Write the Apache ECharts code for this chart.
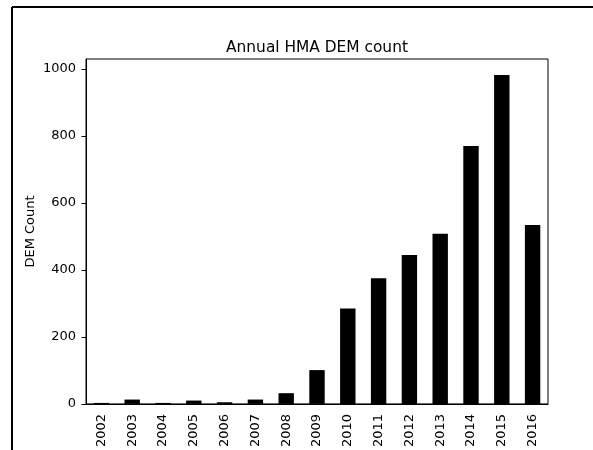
<!DOCTYPE html>
<html>
<head>
<meta charset="utf-8">
<script src="https://cdn.jsdelivr.net/npm/echarts@6/dist/echarts.min.js"></script>
<style>html,body{margin:0;padding:0;background:#fff}#c{width:593px;height:450px}</style>
</head>
<body>
<div id="c"></div>
<script>
const years = ['2002','2003','2004','2005','2006','2007','2008','2009','2010','2011','2012','2013','2014','2015','2016'];
const demCounts = [3, 13, 3, 10, 5, 13, 32, 101, 285, 375, 445, 508, 770, 982, 534];
const yTicks = [0, 200, 400, 600, 800, 1000];
const titleText = 'Annual HMA DEM count';
const yName = 'DEM Count';

const font = 'DejaVu Sans';
const chart = echarts.init(document.getElementById('c'), null, {renderer: 'canvas'});
chart.setOption({
  animation: false,
  backgroundColor: '#fff',
  title: {
    text: titleText,
    left: 312,
    top: 35,
    textAlign: 'center',
    textStyle: {fontFamily: font, fontSize: 15.4, fontWeight: 'normal', color: '#000'}
  },
  graphic: [
    {type: 'line', shape: {x1: 12, y1: 7, x2: 593, y2: 7}, style: {stroke: '#000', lineWidth: 2}},
    {type: 'line', shape: {x1: 12, y1: 7, x2: 12, y2: 450}, style: {stroke: '#000', lineWidth: 2}}
  ],
  grid: {left: 86, top: 59, right: 45, bottom: 45, show: true, borderColor: '#000', borderWidth: 1, containLabel: false},
  xAxis: {
    type: 'category',
    data: years,
    boundaryGap: true,
    axisLine: {lineStyle: {color: '#000', width: 1}},
    axisTick: {alignWithLabel: true, length: 4.5, lineStyle: {color: '#000'}},
    axisLabel: {rotate: 90, fontFamily: font, fontSize: 13, color: '#000', margin: 10, interval: 0},
    splitLine: {show: false}
  },
  yAxis: {
    type: 'value',
    min: 0,
    max: 1030,
    name: yName,
    nameLocation: 'middle',
    nameRotate: 90,
    nameGap: 49,
    nameMoveOverlap: false,
    nameTextStyle: {fontFamily: font, fontSize: 13, color: '#000'},
    axisLine: {show: true, lineStyle: {color: '#000', width: 1}},
    axisTick: {show: true, length: 4.5, lineStyle: {color: '#000', width: 1}, customValues: yTicks},
    axisLabel: {fontFamily: font, fontSize: 13, color: '#000', margin: 10, customValues: yTicks, formatter: v => String(v)},
    splitLine: {show: false}
  },
  series: [{
    type: 'bar',
    data: demCounts,
    barWidth: '50%',
    itemStyle: {color: '#000'}
  }]
});
</script>
</body>
</html>
